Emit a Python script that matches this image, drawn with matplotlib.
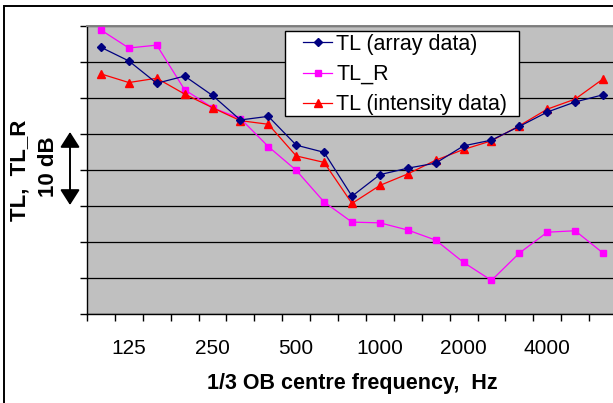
import numpy as np
import matplotlib
matplotlib.use("Agg")
import matplotlib.pyplot as plt
from matplotlib.patches import Rectangle, FancyArrowPatch

# 1/3 octave band centre frequencies (Hz)
bands = [100, 125, 160, 200, 250, 315, 400, 500, 630, 800, 1000,
         1250, 1600, 2000, 2500, 3150, 4000, 5000, 6300]
shown_labels = ["125", "250", "500", "1000", "2000", "4000"]

# values in dB (relative, 5 dB per gridline)
tl_array = [37.0, 35.1, 32.0, 33.0, 30.3, 26.9, 27.4, 23.4, 22.4, 16.3,
            19.3, 20.2, 20.9, 23.3, 24.1, 26.0, 28.0, 29.4, 30.4]
tl_r = [39.4, 36.9, 37.3, 31.1, 28.6, 27.1, 23.2, 19.9, 15.5, 12.7,
        12.6, 11.6, 10.2, 7.1, 4.6, 8.4, 11.3, 11.5, 8.4]
tl_intensity = [33.3, 32.1, 32.7, 30.5, 28.6, 26.8, 26.3, 21.9, 21.0, 15.3,
                17.8, 19.4, 21.3, 22.8, 24.0, 26.1, 28.4, 29.8, 32.6]

plt.rcParams['font.family'] = ['Liberation Sans', 'DejaVu Sans']

W, H = 613, 403
fig = plt.figure(figsize=(W / 100, H / 100), dpi=100)
ax = fig.add_axes([87 / W, (H - 313.5) / H, 530 / W, 287.8 / H])
ax.set_facecolor("#C0C0C0")

x = np.arange(len(bands))
ax.plot(x, tl_array, color="#000080", lw=0.9, marker="D", ms=4.5,
        label="TL (array data)", zorder=4)
ax.plot(x, tl_r, color="#FF00FF", lw=0.9, marker="s", ms=4.8,
        label="TL_R", zorder=3)
ax.plot(x, tl_intensity, color="#FF0000", lw=0.9, marker="^", ms=6,
        label="TL (intensity data)", zorder=3)

ax.set_xlim(-0.5, len(bands) - 0.5)
ax.set_ylim(0, 40)
ax.set_yticks(np.arange(0, 41, 5))
ax.set_yticklabels([])
ax.yaxis.grid(True, color="black", lw=0.9)
ax.set_axisbelow(True)

# category boundaries get tick marks, labels sit under every third band
ax.set_xticks(np.arange(-0.5, len(bands), 1))
ax.set_xticklabels([])
label_pos = [bands.index(int(s)) for s in shown_labels]
ax.set_xticks(label_pos, minor=True)
ax.set_xticklabels(shown_labels, minor=True, fontsize=15)
ax.tick_params(axis="x", which="major", direction="out", length=4.7, width=1)
ax.tick_params(axis="x", which="minor", length=0, pad=18)
ax.tick_params(axis="y", direction="out", length=5, width=1)

for side in ["left", "bottom"]:
    ax.spines[side].set_color("black")
    ax.spines[side].set_linewidth(1)
ax.spines["top"].set_color("#808080")
ax.spines["top"].set_linewidth(1.4)
ax.spines["right"].set_visible(False)

# legend box drawn by hand so the left padding can be wider than the top one
ax.add_patch(Rectangle((285 / W, 1 - 116 / H), 234 / W, 85 / H,
                       transform=fig.transFigure, facecolor="white",
                       edgecolor="black", lw=1, zorder=4.8, clip_on=False))
leg = ax.legend(loc="upper left", bbox_to_anchor=(303 / W, 1 - 34 / H),
                bbox_transform=fig.transFigure, borderaxespad=0,
                fontsize=15.5, frameon=False,
                handlelength=1.35, handletextpad=0.2, labelspacing=0.42,
                borderpad=0)
leg.set_zorder(6)

fig.text(352 / W, 1 - 383 / H, "1/3 OB centre frequency,  Hz",
         ha="center", va="center", fontsize=15.5, fontweight="bold")
fig.text(20 / W, 1 - 170 / H, "TL,  TL_R", rotation=90,
         ha="center", va="center", fontsize=16, fontweight="bold")
fig.text(49 / W, 1 - 167 / H, "10 dB", rotation=90,
         ha="center", va="center", fontsize=16, fontweight="bold")

arrow = FancyArrowPatch((70 / W, 1 - 132 / H), (70 / W, 1 - 205 / H),
                        transform=fig.transFigure,
                        arrowstyle="<|-|>,head_length=0.94,head_width=0.6",
                        mutation_scale=10, color="black", lw=1.4,
                        shrinkA=0, shrinkB=0)
fig.add_artist(arrow)

# outer chart border (right and bottom edges fall outside the picture)
fig.add_artist(Rectangle((3.5 / W, -0.1), 1.2, 1.1 - 6 / H,
                         transform=fig.transFigure, fill=False,
                         edgecolor="black", lw=1.4))

fig.savefig("out.png", dpi=100)
